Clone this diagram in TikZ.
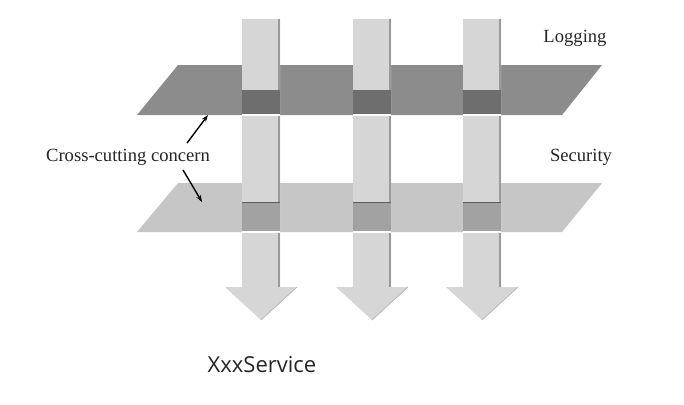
\documentclass[tikz,border=0pt]{standalone}
\usepackage{fontspec}
\setmainfont{Liberation Serif}
\newfontfamily\svcfont{Open Sans}
\usetikzlibrary{arrows.meta}
\definecolor{logplane}{HTML}{8C8C8C}
\definecolor{logdark}{HTML}{6E6E6E}
\definecolor{secplane}{HTML}{C6C6C6}
\definecolor{secdark}{HTML}{A2A2A2}
\definecolor{colfill}{HTML}{D6D6D6}
\definecolor{coledge}{HTML}{9A9A9A}
\tikzset{
  label/.style={inner sep=0pt, anchor=base, text=black!85, font=\fontsize{18.6}{21}\selectfont},
  pointer/.style={line width=1.4pt, -{Stealth[length=7pt,width=5pt]}},
}
\newcommand{\mycolumn}[1]{%
  \fill[colfill] (#1-19,19) -- (#1+19,19) -- (#1+19,287) -- (#1+36,287) -- (#1,320) -- (#1-36,287) -- (#1-19,287) -- cycle;
  \fill[coledge] (#1+17,19) rectangle (#1+19,287);
  \draw[coledge!70!white, line width=0.8pt] (#1+36,287) -- (#1,320);
  \fill[logdark] (#1-19,90) rectangle (#1+19,114);
  \fill[secdark] (#1-19,202) rectangle (#1+19,231);
  \draw[coledge!60!black, line width=0.8pt] (#1-19,202) -- (#1+19,202);
  \fill[white] (#1-19,114) rectangle (#1+19,115.5);
  \fill[white] (#1-19,231) rectangle (#1+19,232.5);
}
\begin{document}
\begin{tikzpicture}[x=1pt,y=-1pt]
\useasboundingbox (0,0) rectangle (684,404);
\fill[white] (0,0) rectangle (684,404);
% planes
\fill[logplane] (178,65) -- (602,65) -- (562,115) -- (137,115) -- cycle;
\fill[secplane] (178,183) -- (602,183) -- (562,232) -- (137,232) -- cycle;
% columns
\mycolumn{261}
\mycolumn{372}
\mycolumn{482}
% labels
\node[label] (logging) at (575,43) {Logging};
\node[label] (security) at (581,161) {Security};
\node[label] (concern) at (128,161) {Cross-cutting concern};
\node[inner sep=0pt, anchor=base, text=black!85, font=\svcfont\fontsize{22}{25}\selectfont] (service) at (262,372) {XxxService};
% pointers
\coordinate (logpt) at (208,115);
\coordinate (secpt) at (202,202);
\draw[pointer] (187,143) -- (logpt);
\draw[pointer] (183,170) -- (secpt);
\end{tikzpicture}
\end{document}
